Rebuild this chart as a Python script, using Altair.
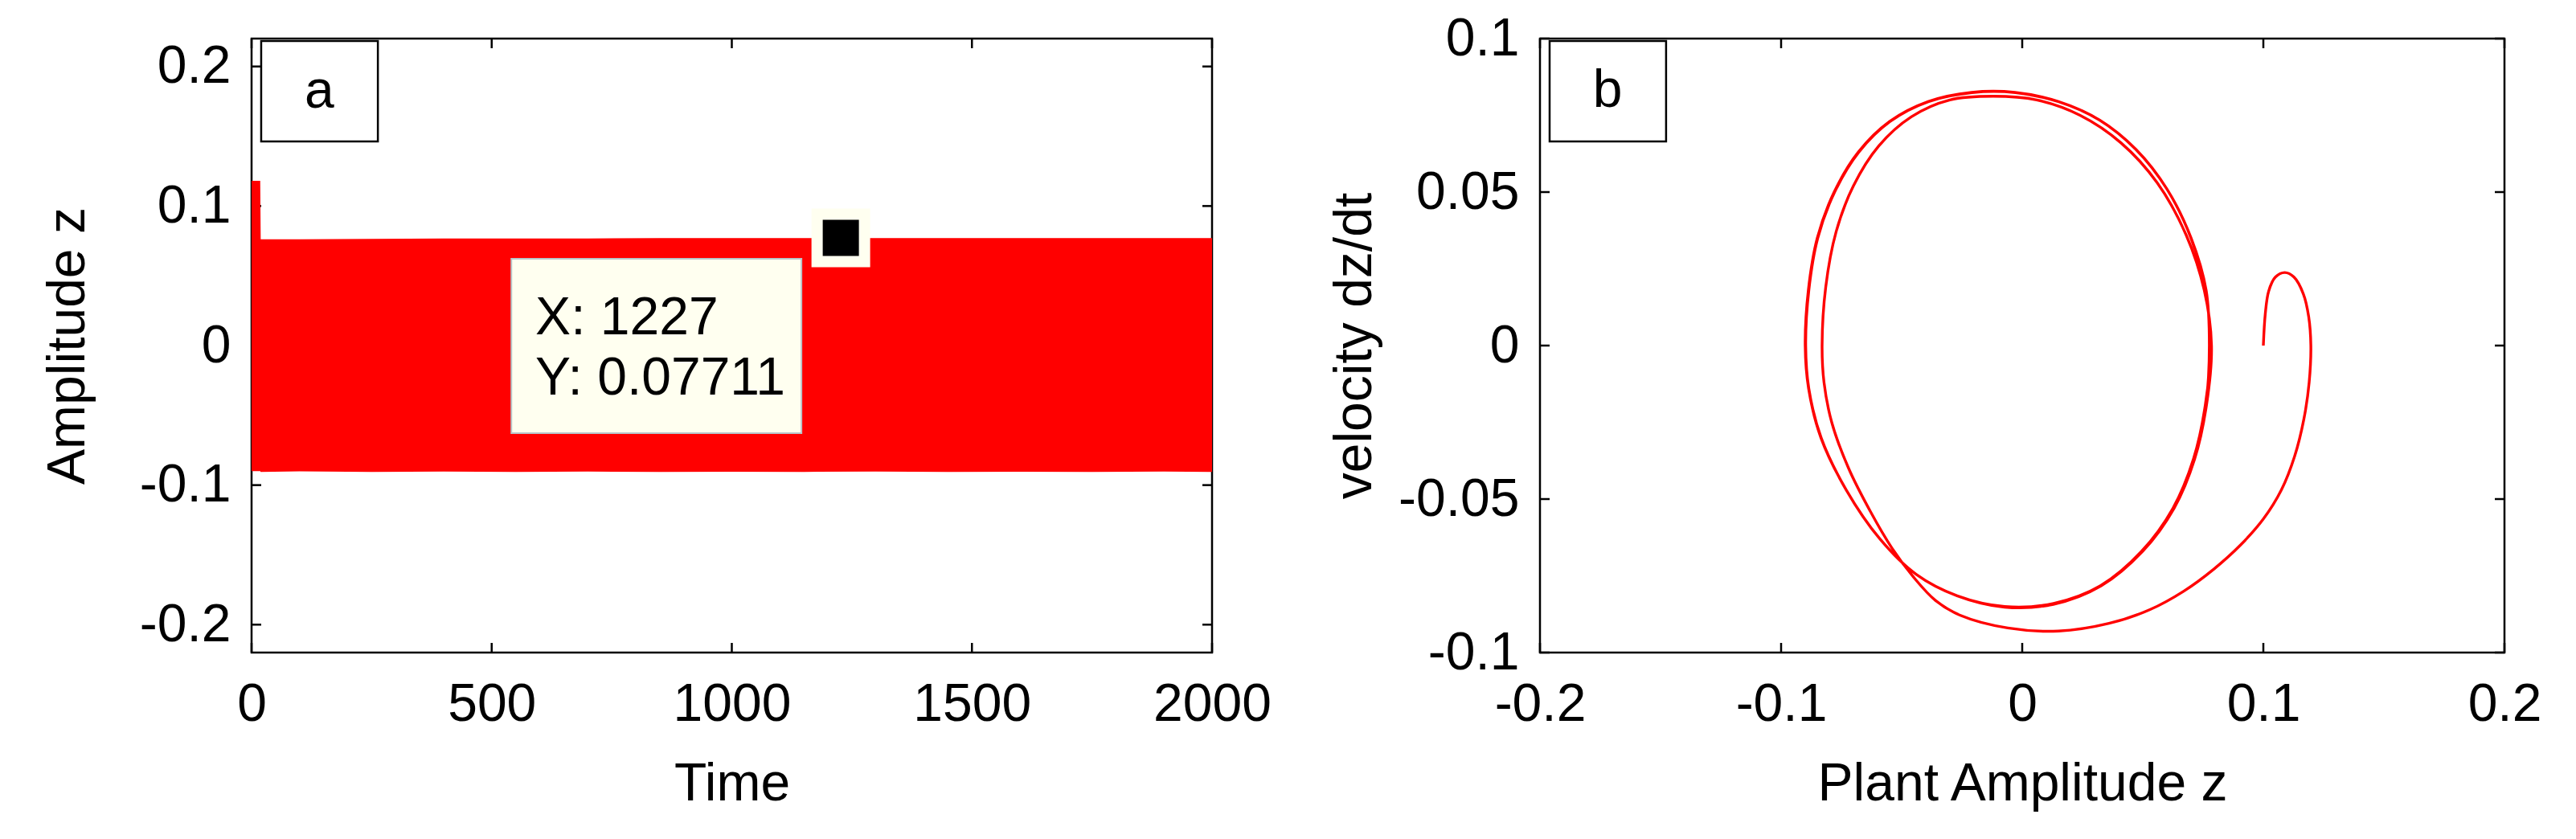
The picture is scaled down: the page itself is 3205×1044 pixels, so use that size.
import altair as alt
import pandas as pd

# ---------------- panel a : time history ----------------
time_ticks = [0, 500, 1000, 1500, 2000]
amp_ticks = [-0.2, -0.1, 0, 0.1, 0.2]
env_time = [0, 18, 19, 100, 250, 400, 550, 700, 850, 1000, 1150, 1300, 1450, 1600, 1750, 1900, 2000]
env_upper = [0.118, 0.118, 0.0762, 0.0762, 0.0765, 0.0767, 0.0768, 0.0768, 0.0770, 0.0770, 0.0771,
             0.0771, 0.0770, 0.0771, 0.0771, 0.0770, 0.0771]
env_lower = [-0.0900, -0.0900, -0.0905, -0.0902, -0.0905, -0.0903, -0.0905, -0.0903, -0.0906, -0.0904,
             -0.0905, -0.0903, -0.0905, -0.0904, -0.0905, -0.0903, -0.0905]
tip_x = [1227]
tip_y = [0.07711]
tip_lines = ["X: 1227", "Y: 0.07711"]

# ---------------- panel b : phase portrait ----------------
z_ticks = [-0.2, -0.1, 0, 0.1, 0.2]
v_ticks = [-0.1, -0.05, 0, 0.05, 0.1]
phase_z = [
    # transient hook and first big sweep
    0.1000, 0.1008, 0.1022, 0.1050, 0.1089, 0.1127, 0.1166, 0.1188, 0.1197,
    0.1190, 0.1168, 0.1130, 0.1075, 0.1000, 0.0905, 0.0795, 0.0670, 0.0530, 0.0360, 0.0150,
    -0.0060, -0.0256, -0.0360, -0.0450, -0.0540, -0.0630, -0.0720, -0.0790, -0.0822, -0.0830,
    # inner upper arc
    -0.0815, -0.0772, -0.0700, -0.0595, -0.0460, -0.0300, -0.0120, 0.0060, 0.0240, 0.0410,
    0.0560, 0.0680, 0.0755, 0.0785,
    # lower arc
    0.0765, 0.0715, 0.0630, 0.0500, 0.0330, 0.0130, -0.0073, -0.0270, -0.0440, -0.0590,
    -0.0730, -0.0835, -0.0886, -0.0900,
    # outer upper arc
    -0.0887, -0.0850, -0.0780, -0.0680, -0.0550, -0.0390, -0.0210, -0.0030, 0.0150, 0.0320,
    0.0470, 0.0600, 0.0700, 0.0760, 0.0780,
    # lower arc again
    0.0760, 0.0710, 0.0625, 0.0495, 0.0325, 0.0127, -0.0073, -0.0270, -0.0440, -0.0590,
    -0.0730, -0.0834, -0.0885, -0.0898,
    # outer upper arc again
    -0.0885, -0.0848, -0.0778, -0.0678, -0.0548, -0.0388, -0.0208, -0.0028, 0.0152, 0.0322,
    0.0472, 0.0601, 0.0701, 0.0763, 0.0776,
    # final lower piece
    0.0762, 0.0712, 0.0627, 0.0497, 0.0327, 0.0129, -0.0072,
]
phase_v = [
    0.0000, 0.0103, 0.0177, 0.0223, 0.0238, 0.0223, 0.0168, 0.0094, 0.0000,
    -0.0120, -0.0240, -0.0360, -0.0470, -0.0565, -0.0650, -0.0728, -0.0800, -0.0860, -0.0905, -0.0930,
    -0.0920, -0.0879, -0.0830, -0.0755, -0.0660, -0.0540, -0.0400, -0.0250, -0.0120, 0.0000,
    0.0190, 0.0370, 0.0520, 0.0650, 0.0745, 0.0800, 0.0812, 0.0800, 0.0750, 0.0660,
    0.0530, 0.0360, 0.0180, 0.0000,
    -0.0190, -0.0370, -0.0530, -0.0670, -0.0780, -0.0840, -0.0850, -0.0815, -0.0745, -0.0630,
    -0.0470, -0.0300, -0.0140, 0.0000,
    0.0180, 0.0350, 0.0500, 0.0630, 0.0730, 0.0795, 0.0825, 0.0825, 0.0795, 0.0735,
    0.0640, 0.0510, 0.0350, 0.0180, 0.0000,
    -0.0190, -0.0370, -0.0530, -0.0670, -0.0782, -0.0843, -0.0852, -0.0815, -0.0745, -0.0630,
    -0.0470, -0.0300, -0.0140, 0.0000,
    0.0180, 0.0350, 0.0500, 0.0630, 0.0730, 0.0795, 0.0824, 0.0824, 0.0794, 0.0734,
    0.0639, 0.0509, 0.0349, 0.0179, 0.0000,
    -0.0190, -0.0370, -0.0530, -0.0672, -0.0783, -0.0843, -0.0852,
]

FONT = "Liberation Sans"
FS = 66
W1, W2, H = 1195, 1200, 764
TL = 12
RED = "#FF0000"
IVORY = "#FFFFF0"

label_expr = "datum.value == 0 ? '0' : (datum.value < 0 ? '-' : '') + format(abs(datum.value), '~g')"

ax_time = alt.Axis(values=time_ticks, title="Time", labelExpr=label_expr, labelFlush=False,
                   labelPadding=32, titlePadding=34)
ax_amp = alt.Axis(values=amp_ticks, title="Amplitude z", labelExpr=label_expr, labelPadding=26,
                  titleX=-229, titleY=H / 2, titleBaseline="middle")
ax_z = alt.Axis(values=z_ticks, title="Plant Amplitude z", labelExpr=label_expr, labelFlush=False,
                labelPadding=32, titlePadding=34)
ax_v = alt.Axis(values=v_ticks, title="velocity dz/dt", labelExpr=label_expr, labelPadding=26,
                titleX=-231, titleY=H / 2, titleBaseline="middle")

sc_time = alt.Scale(domain=[0, 2000], nice=False, zero=False)
sc_amp = alt.Scale(domain=[-0.22, 0.22], nice=False, zero=False)
sc_z = alt.Scale(domain=[-0.2, 0.2], nice=False, zero=False)
sc_v = alt.Scale(domain=[-0.1, 0.1], nice=False, zero=False)


def X(field, sc, ax):
    return alt.X(field, type="quantitative", scale=sc, axis=ax)


def Y(field, sc, ax):
    return alt.Y(field, type="quantitative", scale=sc, axis=ax)


def tick_layers(xt, yt, xsc, ysc, xax, yax, w):
    dx = pd.DataFrame({"xt": xt})
    dy = pd.DataFrame({"yt": yt})
    r = dict(color="black", strokeWidth=2.5)
    return [
        alt.Chart(dx).mark_rule(**r).encode(x=X("xt", xsc, xax), y=alt.value(H), y2=alt.value(H - TL)),
        alt.Chart(dx).mark_rule(**r).encode(x=X("xt", xsc, xax), y=alt.value(0), y2=alt.value(TL)),
        alt.Chart(dy).mark_rule(**r).encode(y=Y("yt", ysc, yax), x=alt.value(0), x2=alt.value(TL)),
        alt.Chart(dy).mark_rule(**r).encode(y=Y("yt", ysc, yax), x=alt.value(w - TL), x2=alt.value(w)),
    ]


# ----- panel a layers
env = pd.DataFrame({"t": env_time, "up": env_upper, "lo": env_lower})
band = alt.Chart(env).mark_area(color=RED, opacity=1, interpolate="linear").encode(
    x=X("t", sc_time, ax_time), y=Y("up", sc_amp, ax_amp), y2="lo")

tip = pd.DataFrame({"t": tip_x, "z": tip_y})
tip_box = alt.Chart(tip).mark_rect(fill=IVORY, stroke="#B8C4C8", strokeWidth=2).encode(
    x=alt.datum(541, type="quantitative", scale=sc_time),
    x2=alt.datum(1145),
    y=alt.datum(0.0622, type="quantitative", scale=sc_amp),
    y2=alt.datum(-0.0628))
tip_txt = pd.DataFrame({"s": tip_lines, "yy": [0.0081, -0.0351]})
tip_text = alt.Chart(tip_txt).mark_text(align="left", baseline="alphabetic", font=FONT, fontSize=FS,
                                        color="black").encode(
    x=alt.datum(591, type="quantitative", scale=sc_time),
    y=Y("yy", sc_amp, ax_amp), text="s")
halo = alt.Chart(tip).mark_square(size=73 * 73, color=IVORY, opacity=1).encode(
    x=X("t", sc_time, ax_time), y=Y("z", sc_amp, ax_amp))
marker = alt.Chart(tip).mark_square(size=45 * 45, color="black", opacity=1).encode(
    x=X("t", sc_time, ax_time), y=Y("z", sc_amp, ax_amp))

lab_a = pd.DataFrame({"s": ["a"]})
box_a = alt.Chart(lab_a).mark_rect(fill="white", stroke="black", strokeWidth=2.5).encode(
    x=alt.datum(20, type="quantitative", scale=sc_time), x2=alt.datum(263),
    y=alt.datum(0.2183, type="quantitative", scale=sc_amp), y2=alt.datum(0.1463))
txt_a = alt.Chart(lab_a).mark_text(font=FONT, fontSize=FS, color="black", baseline="middle").encode(
    x=alt.datum(141, type="quantitative", scale=sc_time),
    y=alt.datum(0.182, type="quantitative", scale=sc_amp), text="s")

left = alt.layer(*tick_layers(time_ticks, amp_ticks, sc_time, sc_amp, ax_time, ax_amp, W1),
                 band, tip_box, tip_text, halo, marker, box_a, txt_a).properties(width=W1, height=H)

# ----- panel b layers
ph = pd.DataFrame({"i": list(range(len(phase_z))), "z": phase_z, "v": phase_v})
curve = alt.Chart(ph).mark_line(color=RED, strokeWidth=3.4, interpolate="catmull-rom").encode(
    x=X("z", sc_z, ax_z), y=Y("v", sc_v, ax_v), order="i:Q")

lab_b = pd.DataFrame({"s": ["b"]})
box_b = alt.Chart(lab_b).mark_rect(fill="white", stroke="black", strokeWidth=2.5).encode(
    x=alt.datum(-0.196, type="quantitative", scale=sc_z), x2=alt.datum(-0.1477),
    y=alt.datum(0.0992, type="quantitative", scale=sc_v), y2=alt.datum(0.0665))
txt_b = alt.Chart(lab_b).mark_text(font=FONT, fontSize=FS, color="black", baseline="middle").encode(
    x=alt.datum(-0.172, type="quantitative", scale=sc_z),
    y=alt.datum(0.0829, type="quantitative", scale=sc_v), text="s")

right = alt.layer(*tick_layers(z_ticks, v_ticks, sc_z, sc_v, ax_z, ax_v, W2),
                  curve, box_b, txt_b).properties(width=W2, height=H)

chart = alt.hconcat(left, right, spacing=67).properties(
    padding={"left": 41, "top": 5, "right": 0, "bottom": 0},
    background="white",
).configure_view(stroke="black", strokeWidth=2.5).configure_axis(
    domain=False, ticks=False, tickSize=0, grid=False,
    labelFont=FONT, labelFontSize=FS, labelColor="black",
    titleFont=FONT, titleFontSize=FS, titleColor="black", titleFontWeight="normal",
)

chart.save("out.html", embed_options={"renderer": "svg", "actions": False})
